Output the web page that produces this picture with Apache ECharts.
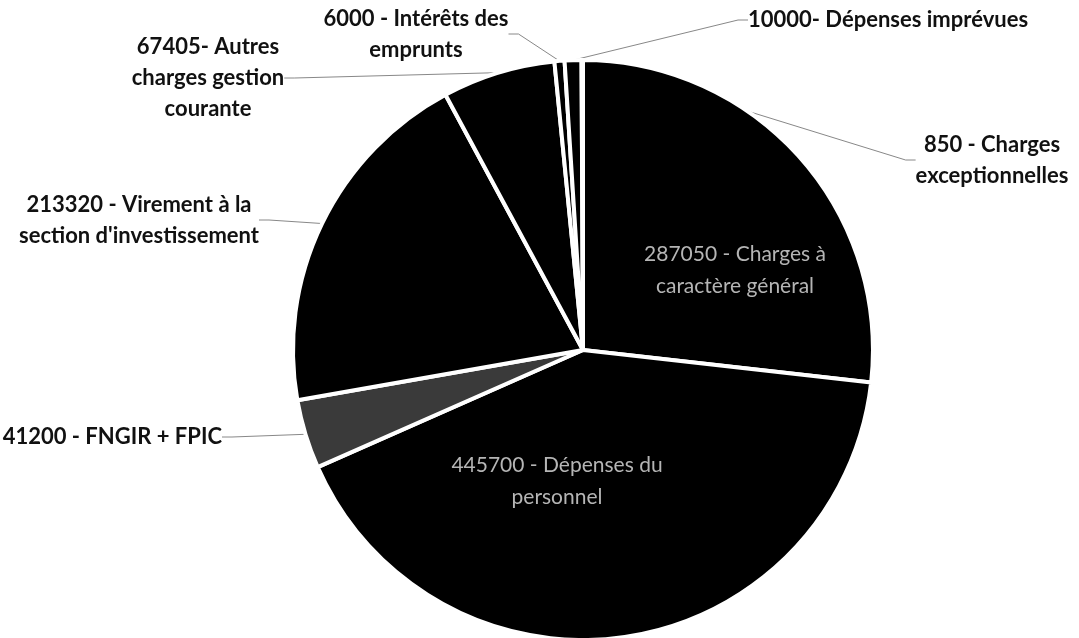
<!DOCTYPE html>
<html><head><meta charset="utf-8">
<script src="https://cdn.jsdelivr.net/npm/echarts@6/dist/echarts.min.js"></script>
<style>html,body{margin:0;padding:0;background:#fff}#c{width:1079px;height:638px}</style>
</head><body><div id="c"></div>
<script>
var categories = ["287050 - Charges à caractère général","445700 - Dépenses du personnel","41200 - FNGIR + FPIC","213320 - Virement à la section d'investissement","67405- Autres charges gestion courante","6000 - Intérêts des emprunts","10000- Dépenses imprévues","850 - Charges exceptionnelles"];
var labelTexts = ["287050 - Charges à\ncaractère général","445700 - Dépenses du\npersonnel","41200 - FNGIR + FPIC","213320 - Virement à la\nsection d'investissement","67405- Autres\ncharges gestion\ncourante","6000 - Intérêts des\nemprunts","10000- Dépenses imprévues","850 - Charges\nexceptionnelles"];
var values = [287050, 445700, 41200, 213320, 67405, 6000, 10000, 850];

var labelPos = [
  {x:735,y:270,align:'center'},
  {x:557,y:481,align:'center'},
  {x:222,y:437,align:'right'},
  {x:139,y:220,align:'center'},
  {x:208,y:78,align:'center'},
  {x:416,y:34,align:'center'},
  {x:748,y:20,align:'left'},
  {x:992,y:160,align:'center'}
];
var inside = [true,true,false,false,false,false,false,false];

var data = values.map(function(v,i){
  var d = {name: categories[i], value: v, itemStyle:{color: i===2 ? '#3a3a3a' : '#000'}};
  if (inside[i]) {
    d.label = {color:'#b5b5b5', fontWeight:'normal', fontSize:21, lineHeight:32};
    d.labelLine = {show:false};
  }
  return d;
});

var chart = echarts.init(document.getElementById('c'));
chart.setOption({
  animation:false,
  backgroundColor:'#fff',
  series:[{
    type:'pie',
    center:['54.03%','54.86%'],
    radius:290,
    startAngle:90,
    clockwise:true,
    avoidLabelOverlap:false,
    data:data,
    itemStyle:{borderColor:'#fff',borderWidth:4},
    label:{
      show:true,
      position:'outside',
      formatter:function(p){return labelTexts[p.dataIndex];},
      fontFamily:'Lato, "Open Sans", sans-serif',
      fontWeight:'bold',
      fontSize:22,
      lineHeight:31,
      color:'#111'
    },
    labelLine:{show:true,length:10,length2:10,lineStyle:{color:'#888',width:1}},
    labelLayout:function(p){
      var lp = labelPos[p.dataIndex];
      return {x:lp.x,y:lp.y,align:lp.align,verticalAlign:'middle'};
    }
  }]
});
</script></body></html>
